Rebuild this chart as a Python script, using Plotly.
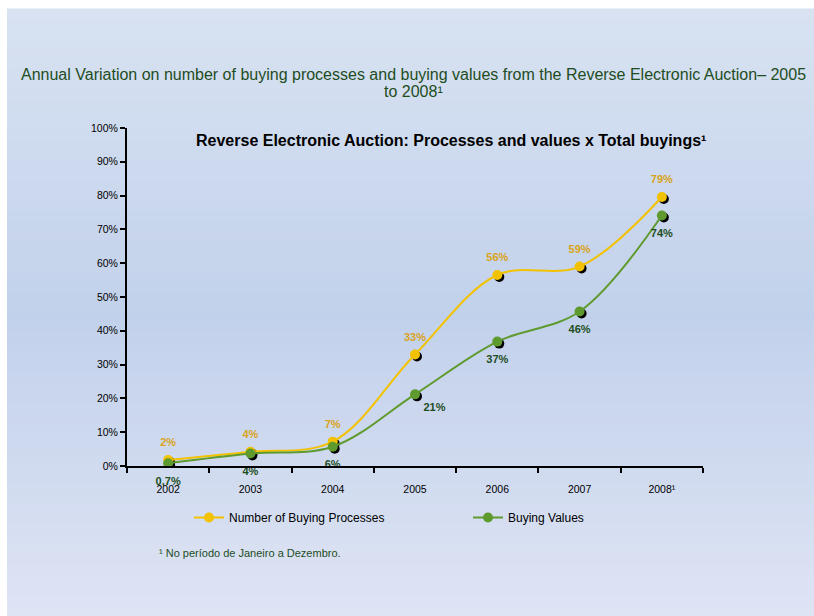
import plotly.graph_objects as go

years = ["2002", "2003", "2004", "2005", "2006", "2007", "2008¹"]
processes = [1.8, 4.2, 7.2, 33.0, 56.5, 59.0, 79.6]
values = [0.8, 3.7, 5.7, 21.2, 36.8, 45.7, 74.1]
process_labels = ["2%", "4%", "7%", "33%", "56%", "59%", "79%"]
value_labels = ["0,7%", "4%", "6%", "21%", "37%", "46%", "74%"]
value_label_pos = ["bottom center", "bottom center", "bottom center", "bottom right",
                   "bottom center", "bottom center", "bottom center"]

W, H = 814, 616
L, R, T, B = 127, 814 - 703, 128, 616 - 466
plot_w = W - L - R
plot_h = H - T - B
n = len(years)


def px(xp):
    # page x pixel -> paper coordinate
    return (xp - L) / plot_w


def py(yp):
    # page y pixel -> paper coordinate
    return (H - B - yp) / plot_h


# shadow offset (pixels) converted to axis units
dx = 2.0 * n / plot_w
dy = 2.0 * 100 / plot_h

YELLOW = "#f2c200"
GREEN = "#5f9a2e"

fig = go.Figure()

# marker shadows on the (hidden) base axes, offset a couple of pixels
for ys in (processes, values):
    fig.add_trace(go.Scatter(
        x=years, y=ys, mode="markers", xaxis="x", yaxis="y",
        marker=dict(size=10, color="black"),
        showlegend=False, hoverinfo="skip"
    ))

fig.add_trace(go.Scatter(
    x=years, y=processes, mode="lines+markers", xaxis="x2", yaxis="y2",
    name="Number of Buying Processes", legend="legend",
    line=dict(color=YELLOW, width=2, shape="spline", smoothing=1),
    marker=dict(size=10, color=YELLOW)
))

fig.add_trace(go.Scatter(
    x=years, y=values, mode="lines+markers", xaxis="x2", yaxis="y2",
    name="Buying Values", legend="legend2",
    line=dict(color=GREEN, width=2, shape="spline", smoothing=1),
    marker=dict(size=10, color=GREEN)
))

# data labels (transparent markers only set the label distance)
fig.add_trace(go.Scatter(
    x=years, y=processes, mode="markers+text", xaxis="x2", yaxis="y2",
    marker=dict(size=16, color="rgba(0,0,0,0)", line=dict(width=0)),
    text=process_labels, textposition="top center",
    textfont=dict(family="Arial", size=11, color="#d9a31a", weight="bold"),
    cliponaxis=False, showlegend=False, hoverinfo="skip"
))

fig.add_trace(go.Scatter(
    x=years, y=values, mode="markers+text", xaxis="x2", yaxis="y2",
    marker=dict(size=[20, 20, 20, 12, 20, 20, 20], color="rgba(0,0,0,0)",
                line=dict(width=0)),
    text=value_labels, textposition=value_label_pos,
    textfont=dict(family="Arial", size=11, color="#1d4d1d", weight="bold"),
    cliponaxis=False, showlegend=False, hoverinfo="skip"
))

# gradient page background built from thin bands
shapes = []
top_c = (0xd8, 0xe2, 0xf1)
mid_c = (0xc2, 0xd1, 0xeb)
bot_c = (0xde, 0xe4, 0xf4)
y_top, y_mid, y_bot = 9, 317, 616
bands = 60
for i in range(bands):
    p0 = y_top + (y_bot - y_top) * i / bands
    p1 = y_top + (y_bot - y_top) * (i + 1) / bands
    pc = (p0 + p1) / 2
    if pc < y_mid:
        f = (pc - y_top) / (y_mid - y_top)
        c = [a + (b - a) * f for a, b in zip(top_c, mid_c)]
    else:
        f = (pc - y_mid) / (y_bot - y_mid)
        c = [a + (b - a) * f for a, b in zip(mid_c, bot_c)]
    shapes.append(dict(
        type="rect", xref="paper", yref="paper", layer="below",
        x0=px(7), x1=px(830),
        y0=py(p1 + 0.5), y1=py(p0 - 0.5),
        fillcolor="rgb(%d,%d,%d)" % tuple(round(v) for v in c),
        line=dict(width=0)
    ))

legend_style = dict(
    orientation="h", xanchor="left", yanchor="top",
    itemwidth=30, bgcolor="rgba(0,0,0,0)",
    font=dict(family="Arial", size=12, color="black")
)

fig.update_layout(
    width=W, height=H,
    margin=dict(l=L, r=R, t=T, b=B),
    paper_bgcolor="white",
    plot_bgcolor="rgba(0,0,0,0)",
    font=dict(family="Arial", size=10, color="black"),
    shapes=shapes,
    showlegend=True,
    legend=dict(x=px(189), y=py(503), **legend_style),
    legend2=dict(x=px(468), y=py(503), **legend_style),
    xaxis=dict(
        type="category", range=[-0.5 - dx, n - 0.5 - dx],
        visible=False, fixedrange=True
    ),
    yaxis=dict(
        range=[dy, 100 + dy], visible=False
    ),
    xaxis2=dict(
        type="category", overlaying="x", range=[-0.5, n - 0.5],
        showline=True, linecolor="black", linewidth=2,
        ticks="outside", tickson="boundaries", ticklen=5, tickwidth=2,
        tickcolor="black", showgrid=False, zeroline=False,
        ticklabelstandoff=12,
        tickfont=dict(family="Arial", size=10.5, color="black"),
        anchor="y2"
    ),
    yaxis2=dict(
        overlaying="y", range=[0, 100], side="left",
        showline=True, linecolor="black", linewidth=2,
        ticks="outside", ticklen=5, tickwidth=2, tickcolor="black",
        dtick=10, ticksuffix="%", showgrid=False, zeroline=False,
        tickfont=dict(family="Arial", size=10.5, color="black"),
        anchor="x2"
    ),
    annotations=[
        dict(
            text="Annual Variation on number of buying processes and buying values from the Reverse Electronic Auction– 2005",
            xref="paper", yref="paper", x=px(413), y=py(74),
            xanchor="center", yanchor="middle", showarrow=False,
            font=dict(family="Arial", size=16, color="#1e4d1e")
        ),
        dict(
            text="to 2008¹",
            xref="paper", yref="paper", x=px(413), y=py(91),
            xanchor="center", yanchor="middle", showarrow=False,
            font=dict(family="Arial", size=16, color="#1e4d1e")
        ),
        dict(
            text="<b>Reverse Electronic Auction: Processes and values x Total buyings¹</b>",
            xref="paper", yref="paper", x=px(451), y=py(140),
            xanchor="center", yanchor="middle", showarrow=False,
            font=dict(family="Arial", size=16, color="black")
        ),
        dict(
            text="¹ No período de Janeiro a Dezembro.",
            xref="paper", yref="paper", x=px(157), y=py(553),
            xanchor="left", yanchor="middle", showarrow=False,
            font=dict(family="Arial", size=11, color="#1e4d1e")
        ),
    ]
)

# drop the default page margin and scrollbars so the figure fills the window
fig.write_html(
    "out.html",
    config={"displayModeBar": False},
    post_script="document.body.style.margin = '0';"
                "document.documentElement.style.overflow = 'hidden';"
                "document.body.style.overflow = 'hidden';"
                "document.documentElement.style.background = '#d3ddf0';"
                "document.body.style.background = '#d3ddf0';"
)
